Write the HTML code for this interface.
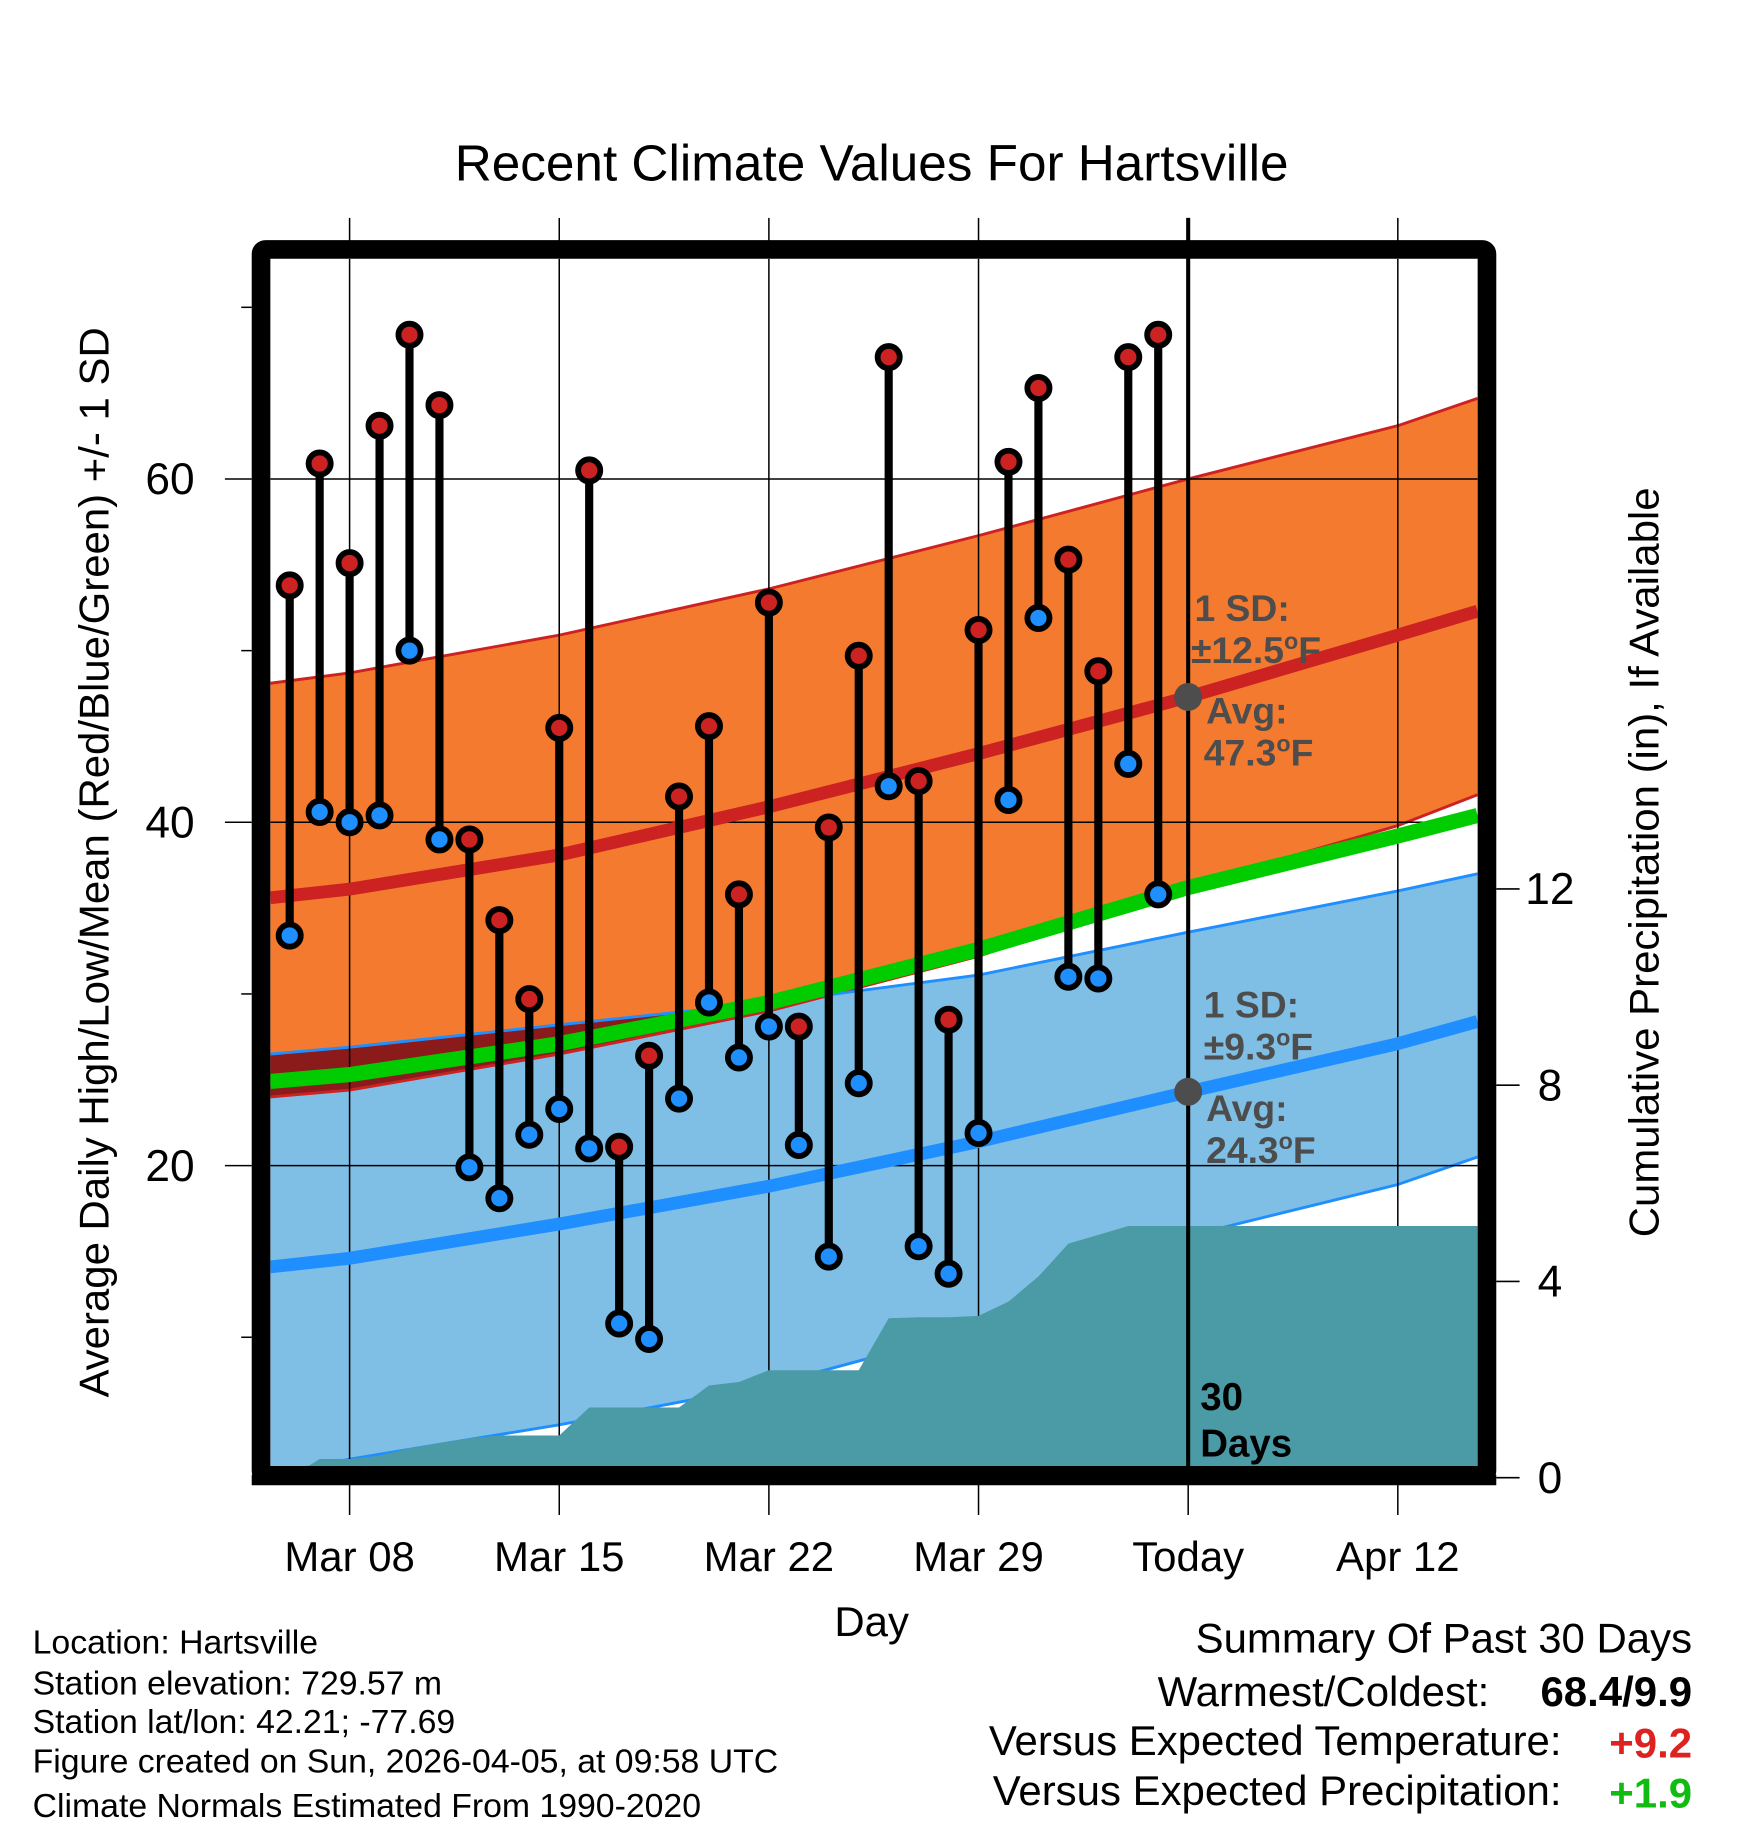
<!DOCTYPE html>
<html><head><meta charset="utf-8"><style>
html,body{margin:0;padding:0;background:#fff}
svg{display:block}
text{font-family:"Liberation Sans",Arial,sans-serif}
</style></head><body>
<svg id="chart" width="1748" height="1828" viewBox="0 0 1500 1568.6" preserveAspectRatio="none" xmlns="http://www.w3.org/2000/svg">
<defs><clipPath id="plotclip"><rect x="232" y="222" width="1036" height="1036"/></clipPath></defs>
<text x="748" y="155" font-size="44" text-anchor="middle">Recent Climate Values For Hartsville</text>
<g id="plot" clip-path="url(#plotclip)"></g>
<g id="axes"></g>
<text transform="translate(93,740) rotate(-90)" font-size="36" text-anchor="middle">Average Daily High/Low/Mean (Red/Blue/Green) +/- 1 SD</text>
<text transform="translate(1423,740) rotate(-90)" font-size="36" text-anchor="middle">Cumulative Precipitation (in), If Available</text>
<text x="748" y="1404" font-size="36" text-anchor="middle">Day</text>
<g font-size="29">
<text x="28" y="1419">Location: Hartsville</text>
<text x="28" y="1454">Station elevation: 729.57 m</text>
<text x="28" y="1487">Station lat/lon: 42.21; -77.69</text>
<text x="28" y="1521">Figure created on Sun, 2026-04-05, at 09:58 UTC</text>
<text x="28" y="1559">Climate Normals Estimated From 1990-2020</text>
</g>
<g font-size="36" text-anchor="end">
<text x="1452" y="1418">Summary Of Past 30 Days</text>
<text x="1278" y="1464">Warmest/Coldest:</text>
<text x="1452" y="1464" font-weight="bold">68.4/9.9</text>
<text x="1340" y="1506">Versus Expected Temperature:</text>
<text x="1452" y="1508" font-weight="bold" fill="#dd2222">+9.2</text>
<text x="1340" y="1549">Versus Expected Precipitation:</text>
<text x="1452" y="1551" font-weight="bold" fill="#11bb11">+1.9</text>
</g>
</svg>
<script>
// ---- data ----
const normDays = [-2.65, 0, 7, 14, 21, 28, 35, 37.66];
const highMean = [35.6, 36.1, 38.1, 40.9, 44.0, 47.3, 50.9, 52.3];
const highUpper = [48.1, 48.7, 50.9, 53.6, 56.7, 60.0, 63.1, 64.7];
const highLower = [24.0, 24.4, 26.5, 29.0, 32.2, 36.3, 39.8, 41.6];
const avgMean = [24.9, 25.3, 27.1, 29.5, 32.6, 36.2, 39.2, 40.4];
const lowMean = [14.1, 14.6, 16.6, 18.8, 21.4, 24.3, 27.1, 28.4];
const lowUpper = [26.5, 26.9, 28.2, 29.5, 31.1, 33.6, 36.0, 37.0];
const lowLower = [2.0, 2.9, 4.9, 7.2, 10.5, 15.9, 18.9, 20.5];
const highs = [53.8,60.9,55.1,63.1,68.4,64.3,39.0,34.3,29.7,45.5,60.5,21.1,26.4,41.5,45.6,35.8,52.8,28.1,39.7,49.7,67.1,42.4,28.5,51.2,61.0,65.3,55.3,48.8,67.1,68.4];
const lows  = [33.4,40.6,40.0,40.4,50.0,39.0,19.9,18.1,21.8,23.3,21.0,10.8,9.9,23.9,29.5,26.3,28.1,21.2,14.7,24.8,42.1,15.3,13.7,21.9,41.3,51.9,31.0,30.9,43.4,35.8];
const precip = [0,0.38,0.38,0.45,0.6,0.71,0.8,0.86,0.86,0.86,1.43,1.43,1.43,1.43,1.88,1.95,2.19,2.19,2.19,2.19,3.25,3.27,3.27,3.3,3.59,4.1,4.77,4.95,5.13,5.13];
const xTickDays = [0,7,14,21,28,35];
const xTickLabels = ["Mar 08","Mar 15","Mar 22","Mar 29","Today","Apr 12"];
const yTicks = [20,40,60];
const yMinor = [10,30,50,70];
const pTicks = [0,4,8,12];
const firstDay = -2; // Mar 06
// ---- scales ----
const X = d => 300 + 25.7*d;
const Y = v => 411 - (v-60)*14.73;
const P = p => 1268 - 42.1*p;
const NS='http://www.w3.org/2000/svg';
function mk(parent, tag, attrs){const e=document.createElementNS(NS,tag);for(const k in attrs)e.setAttribute(k,attrs[k]);parent.appendChild(e);return e;}
const plot=document.getElementById('plot'), axes=document.getElementById('axes');
const line = arr => normDays.map((d,i)=>X(d).toFixed(1)+','+Y(arr[i]).toFixed(1));
const band = (up,lo) => line(up).concat(line(lo).reverse()).join(' ');

let e;
e=mk(plot,'polygon',{points:band(lowUpper,lowLower),fill:'#80bfe5'});
 
e=mk(plot,'polygon',{points:band(highUpper,highLower),fill:'#f47a2f'});
 
const ovTop=normDays.map((d,i)=>Math.max(lowUpper[i],highLower[i]));
e=mk(plot,'polygon',{points:band(ovTop,highLower),fill:'#8b1a1a'});
 
[[highUpper,'#cc2222'],[highLower,'#cc2222'],[lowUpper,'#1f8fff'],[lowLower,'#1f8fff']].forEach(([a,c])=>{
  e=mk(plot,'polyline',{points:line(a).join(' '),fill:'none',stroke:c,'stroke-width':2.5});
   
});
xTickDays.forEach(d=>{e=mk(plot,'line',{x1:X(d),x2:X(d),y1:222,y2:1258,stroke:'#000','stroke-width':1.3});
   });
yTicks.forEach(v=>{e=mk(plot,'line',{x1:232,x2:1268,y1:Y(v),y2:Y(v),stroke:'#000','stroke-width':1.3});
   });
let pp=[(X(firstDay)).toFixed(1)+',1270'];
precip.forEach((p,i)=>pp.push(X(firstDay+i).toFixed(1)+','+P(p).toFixed(1)));
pp.push('1270,'+P(precip[precip.length-1]).toFixed(1)); pp.push('1270,1270');
e=mk(plot,'polygon',{points:pp.join(' '),fill:'#4a9ba5'});
 
[[highMean,'#cc2222',11,'high-normal-line'],[avgMean,'#00cc00',13,'mean-normal-line'],[lowMean,'#1f8fff',11,'low-normal-line']].forEach(([a,c,w,n])=>{
  e=mk(plot,'polyline',{points:line(a).join(' '),fill:'none',stroke:c,'stroke-width':w});
   
});
e=mk(axes,'line',{x1:X(28),x2:X(28),y1:187,y2:1262,stroke:'#000','stroke-width':3.5});
 
const ann=mk(axes,'g',{fill:'#4d4d4d','font-weight':'bold','font-size':'32'});
 
[['1 SD:',1025,533],['±12.5',1022,569],['Avg:',1035,621],['47.3',1033,657],['1 SD:',1033,873],['±9.3',1033,909],['Avg:',1035,962],['24.3',1035,998]].forEach(([t,x,y],k)=>{
  const tt=mk(ann,'text',{x:x,y:y}); tt.textContent=t;
  if(k%2==1){const o=mk(tt,'tspan',{dy:-12,'font-size':20}); o.textContent='o'; const f=mk(tt,'tspan',{dy:12}); f.textContent='F';}
});
e=mk(axes,'circle',{cx:X(28),cy:Y(highMean[5]),r:12,fill:'#4d4d4d'});
 
e=mk(axes,'circle',{cx:X(28),cy:Y(lowMean[5]),r:12,fill:'#4d4d4d'});
 
e=mk(axes,'text',{x:1030,y:1210,'font-size':33,'font-weight':'bold'}); e.textContent='30';
 
e=mk(axes,'text',{x:1030,y:1250,'font-size':33,'font-weight':'bold'}); e.textContent='Days';
 
highs.forEach((h,i)=>{
  const x=X(firstDay+i);
  e=mk(axes,'line',{x1:x,x2:x,y1:Y(h),y2:Y(lows[i]),stroke:'#000','stroke-width':7});
   
  e=mk(axes,'circle',{cx:x,cy:Y(h),r:9.5,fill:'#cc2222',stroke:'#000','stroke-width':5});
   
  e=mk(axes,'circle',{cx:x,cy:Y(lows[i]),r:9.5,fill:'#1f8fff',stroke:'#000','stroke-width':5});
   
});
e=mk(axes,'rect',{x:224,y:214,width:1052,height:1052,rx:4,fill:'none',stroke:'#000','stroke-width':16});
 
e=mk(axes,'line',{x1:216,x2:1284,y1:1270,y2:1270,stroke:'#000','stroke-width':9});
 
xTickDays.forEach((d,i)=>{
  e=mk(axes,'line',{x1:X(d),x2:X(d),y1:187,y2:207,stroke:'#000','stroke-width':1.3});
   
  e=mk(axes,'line',{x1:X(d),x2:X(d),y1:1274,y2:1300,stroke:'#000','stroke-width':1.3});
   
  e=mk(axes,'text',{x:X(d),y:1348,'font-size':36,'text-anchor':'middle'}); e.textContent=xTickLabels[i];
   
});
yTicks.forEach(v=>{
  e=mk(axes,'line',{x1:193,x2:216,y1:Y(v),y2:Y(v),stroke:'#000','stroke-width':1.3});
   
  e=mk(axes,'text',{x:167,y:Y(v)+13,'font-size':38,'text-anchor':'end'}); e.textContent=v;
   
});
yMinor.forEach(v=>{
  e=mk(axes,'line',{x1:207,x2:216,y1:Y(v),y2:Y(v),stroke:'#000','stroke-width':1.3});
   
});
pTicks.forEach(p=>{
  e=mk(axes,'line',{x1:1284,x2:1304,y1:P(p),y2:P(p),stroke:'#000','stroke-width':1.3});
   
  e=mk(axes,'text',{x:1330,y:P(p)+13,'font-size':38,'text-anchor':'middle'}); e.textContent=p;
   
});
</script>
</body></html>
